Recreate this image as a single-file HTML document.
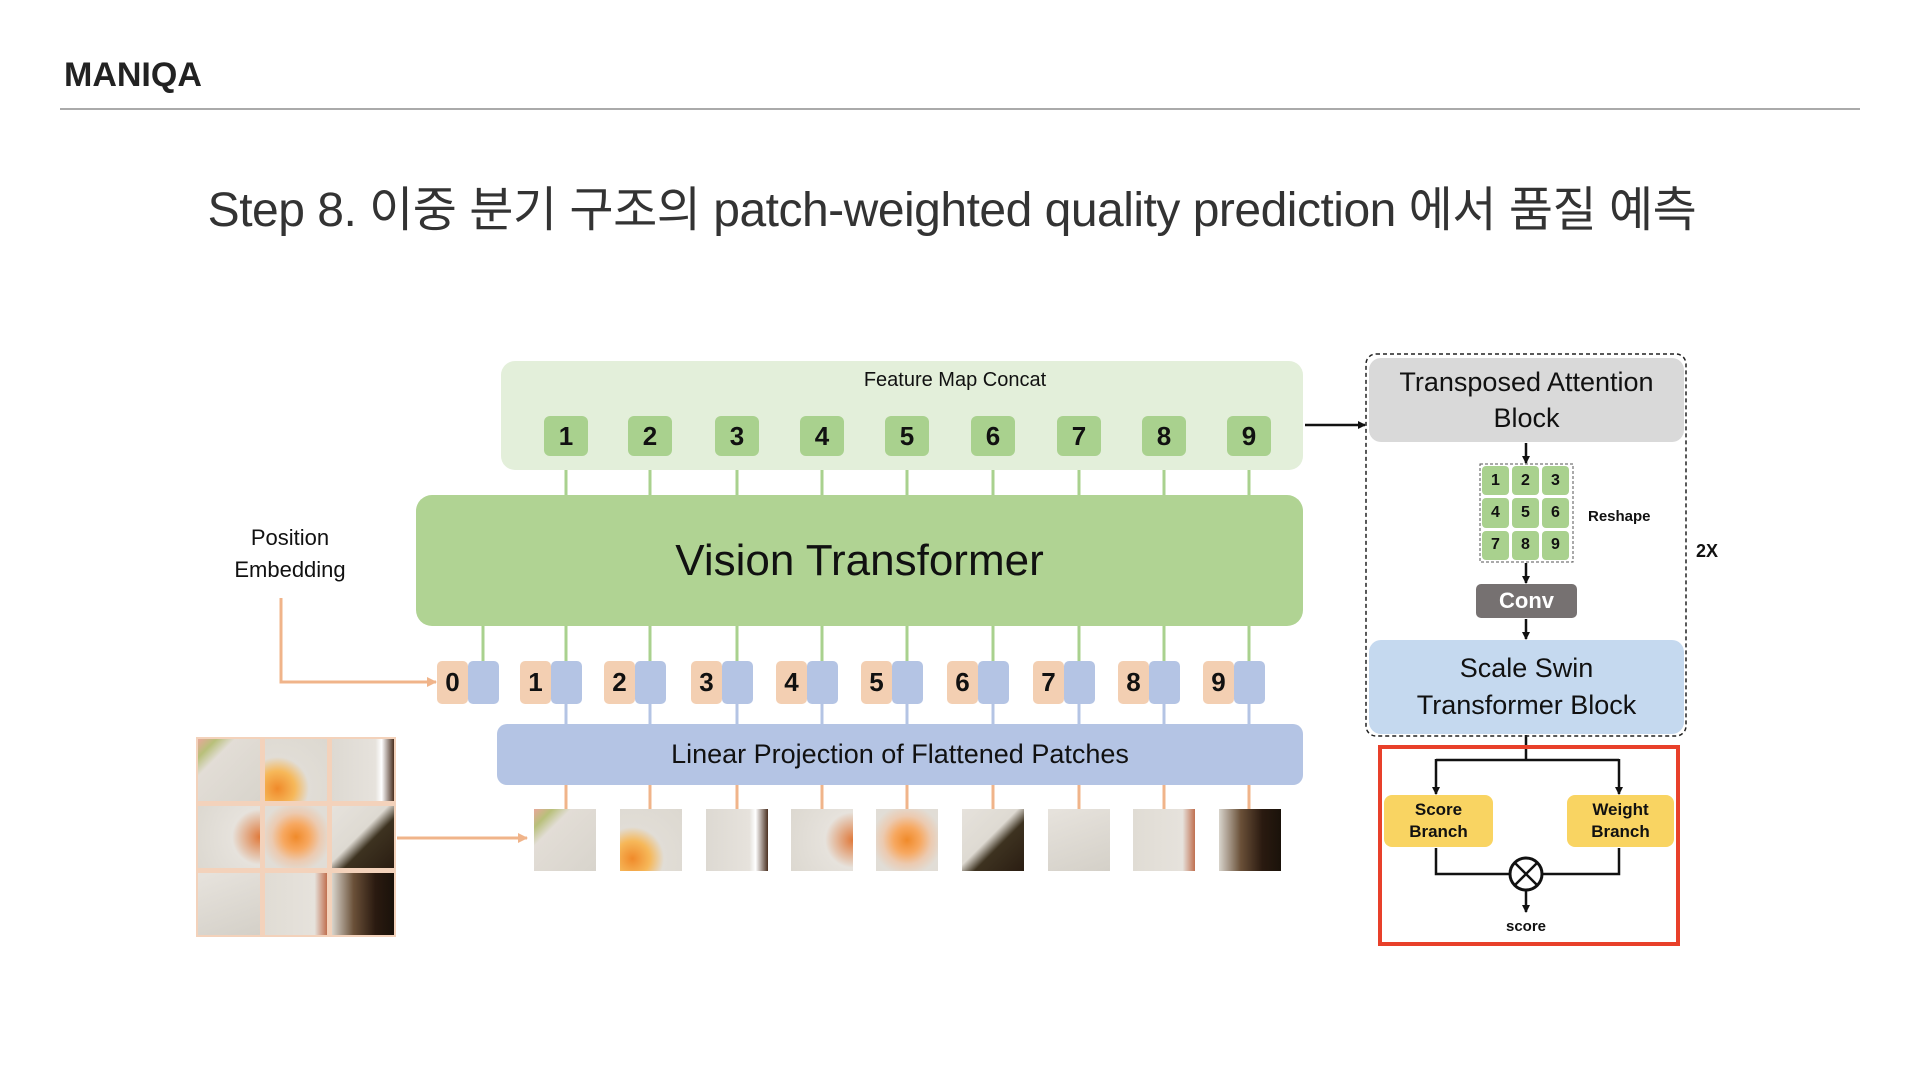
<!DOCTYPE html>
<html><head><meta charset="utf-8">
<style>
body{margin:0;width:1920px;height:1080px;background:#fff;position:relative;overflow:hidden;font-family:"Liberation Sans","Noto Sans CJK KR",sans-serif}
.a{position:absolute}
.c{display:flex;align-items:center;justify-content:center;text-align:center}
.num{font-family:"Liberation Sans",sans-serif;font-weight:bold;color:#111}
</style></head><body>
<div class="a" style="left:64px;top:56px;font-size:34px;font-weight:bold;color:#222;letter-spacing:0px">MANIQA</div>
<div class="a" style="left:60px;top:108px;width:1800px;height:2px;background:#aaa"></div>
<div class="a" style="left:0;top:170px;width:1904px;text-align:center;font-size:48px;color:#333;letter-spacing:-0.5px">Step 8. 이중 분기 구조의 patch-weighted quality prediction 에서 품질 예측</div>

<svg class="a" style="left:0;top:0" width="1920" height="1080">
<defs>
<marker id="ab" markerWidth="8" markerHeight="8" refX="7" refY="4" orient="auto" markerUnits="userSpaceOnUse"><path d="M0,0 L8,4 L0,8z" fill="#111"/></marker>
<marker id="ao" markerWidth="10" markerHeight="10" refX="9" refY="5" orient="auto" markerUnits="userSpaceOnUse"><path d="M0,0 L10,5 L0,10z" fill="#f0b48a"/></marker>
</defs>
<g stroke="#a9d18e" stroke-width="3">
<line x1="483" y1="620" x2="483" y2="665"/>
<line x1="566" y1="450" x2="566" y2="665"/><line x1="650" y1="450" x2="650" y2="665"/><line x1="737" y1="450" x2="737" y2="665"/><line x1="822" y1="450" x2="822" y2="665"/><line x1="907" y1="450" x2="907" y2="665"/><line x1="993" y1="450" x2="993" y2="665"/><line x1="1079" y1="450" x2="1079" y2="665"/><line x1="1164" y1="450" x2="1164" y2="665"/><line x1="1249" y1="450" x2="1249" y2="665"/>
</g>
<g stroke="#b4c4e4" stroke-width="3">
<line x1="566" y1="700" x2="566" y2="728"/><line x1="650" y1="700" x2="650" y2="728"/><line x1="737" y1="700" x2="737" y2="728"/><line x1="822" y1="700" x2="822" y2="728"/><line x1="907" y1="700" x2="907" y2="728"/><line x1="993" y1="700" x2="993" y2="728"/><line x1="1079" y1="700" x2="1079" y2="728"/><line x1="1164" y1="700" x2="1164" y2="728"/><line x1="1249" y1="700" x2="1249" y2="728"/>
</g>
<g stroke="#f0b48a" stroke-width="3" fill="none">
<line x1="566" y1="780" x2="566" y2="812"/><line x1="650" y1="780" x2="650" y2="812"/><line x1="737" y1="780" x2="737" y2="812"/><line x1="822" y1="780" x2="822" y2="812"/><line x1="907" y1="780" x2="907" y2="812"/><line x1="993" y1="780" x2="993" y2="812"/><line x1="1079" y1="780" x2="1079" y2="812"/><line x1="1164" y1="780" x2="1164" y2="812"/><line x1="1249" y1="780" x2="1249" y2="812"/>
<path d="M281,598 V682 H436" marker-end="url(#ao)"/>
<path d="M397,838 H527" marker-end="url(#ao)"/>
</g>
<g stroke="#111" stroke-width="2.5" fill="none">
<path d="M1305,425 H1365" marker-end="url(#ab)"/>
<path d="M1526,443 V463" marker-end="url(#ab)"/>
<path d="M1526,563 V583" marker-end="url(#ab)"/>
<path d="M1526,619 V639" marker-end="url(#ab)"/>
<path d="M1526,735 V760 M1436,760 H1619" />
<path d="M1436,759 V794" marker-end="url(#ab)"/>
<path d="M1619,759 V794" marker-end="url(#ab)"/>
<path d="M1436,848 V874 H1510 M1542,874 H1619 V848"/>
<path d="M1526,890 V912" marker-end="url(#ab)"/>
<circle cx="1526" cy="874" r="16" stroke-width="3" fill="#fff"/>
<path d="M1515,863 L1537,885 M1537,863 L1515,885"/>
</g>
<rect x="1366" y="354" width="320" height="382" rx="10" fill="none" stroke="#222" stroke-width="1.5" stroke-dasharray="4,3"/>
<rect x="1480" y="464" width="93" height="98" fill="none" stroke="#555" stroke-width="1" stroke-dasharray="3,2"/>
<rect x="1380" y="747" width="298" height="197" fill="none" stroke="#e8402a" stroke-width="4"/>
</svg>

<div class="a" style="left:501px;top:361px;width:802px;height:109px;background:#e3efda;border-radius:14px"></div>
<div class="a" style="left:855px;top:369px;width:200px;text-align:center;font-size:20px;color:#111">Feature Map Concat</div>
<div class="a c num" style="left:544px;top:416px;width:44px;height:40px;background:#a9d18e;border-radius:6px;font-size:26px">1</div>
<div class="a c num" style="left:628px;top:416px;width:44px;height:40px;background:#a9d18e;border-radius:6px;font-size:26px">2</div>
<div class="a c num" style="left:715px;top:416px;width:44px;height:40px;background:#a9d18e;border-radius:6px;font-size:26px">3</div>
<div class="a c num" style="left:800px;top:416px;width:44px;height:40px;background:#a9d18e;border-radius:6px;font-size:26px">4</div>
<div class="a c num" style="left:885px;top:416px;width:44px;height:40px;background:#a9d18e;border-radius:6px;font-size:26px">5</div>
<div class="a c num" style="left:971px;top:416px;width:44px;height:40px;background:#a9d18e;border-radius:6px;font-size:26px">6</div>
<div class="a c num" style="left:1057px;top:416px;width:44px;height:40px;background:#a9d18e;border-radius:6px;font-size:26px">7</div>
<div class="a c num" style="left:1142px;top:416px;width:44px;height:40px;background:#a9d18e;border-radius:6px;font-size:26px">8</div>
<div class="a c num" style="left:1227px;top:416px;width:44px;height:40px;background:#a9d18e;border-radius:6px;font-size:26px">9</div>

<div class="a c" style="left:416px;top:495px;width:887px;height:131px;background:#b0d393;border-radius:16px;font-size:44px;color:#111">Vision Transformer</div>

<div class="a" style="left:200px;top:522px;width:180px;text-align:center;font-size:22px;line-height:32px;color:#111">Position<br>Embedding</div>

<div class="a" style="left:437px;top:661px;width:31px;height:43px;background:#f3cfb2;border-radius:5px"></div><div class="a c num" style="left:437px;top:661px;width:31px;height:43px;font-size:26px">0</div><div class="a" style="left:468px;top:661px;width:31px;height:43px;background:#b4c4e4;border-radius:5px"></div>
<div class="a c num" style="left:520px;top:661px;width:31px;height:43px;background:#f3cfb2;border-radius:5px;font-size:26px">1</div><div class="a" style="left:551px;top:661px;width:31px;height:43px;background:#b4c4e4;border-radius:5px"></div>
<div class="a c num" style="left:604px;top:661px;width:31px;height:43px;background:#f3cfb2;border-radius:5px;font-size:26px">2</div><div class="a" style="left:635px;top:661px;width:31px;height:43px;background:#b4c4e4;border-radius:5px"></div>
<div class="a c num" style="left:691px;top:661px;width:31px;height:43px;background:#f3cfb2;border-radius:5px;font-size:26px">3</div><div class="a" style="left:722px;top:661px;width:31px;height:43px;background:#b4c4e4;border-radius:5px"></div>
<div class="a c num" style="left:776px;top:661px;width:31px;height:43px;background:#f3cfb2;border-radius:5px;font-size:26px">4</div><div class="a" style="left:807px;top:661px;width:31px;height:43px;background:#b4c4e4;border-radius:5px"></div>
<div class="a c num" style="left:861px;top:661px;width:31px;height:43px;background:#f3cfb2;border-radius:5px;font-size:26px">5</div><div class="a" style="left:892px;top:661px;width:31px;height:43px;background:#b4c4e4;border-radius:5px"></div>
<div class="a c num" style="left:947px;top:661px;width:31px;height:43px;background:#f3cfb2;border-radius:5px;font-size:26px">6</div><div class="a" style="left:978px;top:661px;width:31px;height:43px;background:#b4c4e4;border-radius:5px"></div>
<div class="a c num" style="left:1033px;top:661px;width:31px;height:43px;background:#f3cfb2;border-radius:5px;font-size:26px">7</div><div class="a" style="left:1064px;top:661px;width:31px;height:43px;background:#b4c4e4;border-radius:5px"></div>
<div class="a c num" style="left:1118px;top:661px;width:31px;height:43px;background:#f3cfb2;border-radius:5px;font-size:26px">8</div><div class="a" style="left:1149px;top:661px;width:31px;height:43px;background:#b4c4e4;border-radius:5px"></div>
<div class="a c num" style="left:1203px;top:661px;width:31px;height:43px;background:#f3cfb2;border-radius:5px;font-size:26px">9</div><div class="a" style="left:1234px;top:661px;width:31px;height:43px;background:#b4c4e4;border-radius:5px"></div>

<div class="a c" style="left:497px;top:724px;width:806px;height:61px;background:#b4c4e4;border-radius:10px;font-size:27px;color:#111">Linear Projection of Flattened Patches</div>

<div class="a" style="left:196px;top:737px;width:200px;height:200px;background:#f3d2bb"></div>
<div class="a" style="left:198px;top:739px;width:62px;height:62px;background:linear-gradient(135deg,#e7a89a 0%,#b8c07a 15%,#e2ddd6 30%,#d8d4cc 100%)"></div>
<div class="a" style="left:265px;top:739px;width:62px;height:62px;background:radial-gradient(circle at 20% 80%,#f08a2a 0,#f6b85a 25%,#e1ddd6 45%,#dcd8d0 100%)"></div>
<div class="a" style="left:332px;top:739px;width:62px;height:62px;background:linear-gradient(90deg,#ddd9d2 0%,#e6e2dc 70%,#fff 80%,#4a3020 100%)"></div>
<div class="a" style="left:198px;top:806px;width:62px;height:62px;background:radial-gradient(circle at 100% 50%,#e0793a 0,#e6e2dc 40%,#dcd8d0 100%)"></div>
<div class="a" style="left:265px;top:806px;width:62px;height:62px;background:radial-gradient(circle at 50% 50%,#f08a2a 0,#f7a860 30%,#eccab0 55%,#e1ddd6 80%)"></div>
<div class="a" style="left:332px;top:806px;width:62px;height:62px;background:linear-gradient(135deg,#e6e2dc 0%,#dedad2 45%,#3d3220 60%,#2a1d12 100%)"></div>
<div class="a" style="left:198px;top:873px;width:62px;height:62px;background:linear-gradient(160deg,#e7e3dd,#d4d0c8)"></div>
<div class="a" style="left:265px;top:873px;width:62px;height:62px;background:linear-gradient(90deg,#e0dcd4,#e6e2dc 80%,#c07050)"></div>
<div class="a" style="left:332px;top:873px;width:62px;height:62px;background:linear-gradient(90deg,#d8d4cc 0%,#6a5038 35%,#2a1a10 70%,#1a120a 100%)"></div>

<div class="a" style="left:534px;top:809px;width:62px;height:62px;background:linear-gradient(135deg,#e7a89a 0%,#b8c07a 15%,#e2ddd6 30%,#d8d4cc 100%)"></div>
<div class="a" style="left:620px;top:809px;width:62px;height:62px;background:radial-gradient(circle at 20% 80%,#f08a2a 0,#f6b85a 25%,#e1ddd6 45%,#dcd8d0 100%)"></div>
<div class="a" style="left:706px;top:809px;width:62px;height:62px;background:linear-gradient(90deg,#ddd9d2 0%,#e6e2dc 70%,#fff 80%,#4a3020 100%)"></div>
<div class="a" style="left:791px;top:809px;width:62px;height:62px;background:radial-gradient(circle at 100% 50%,#e0793a 0,#e6e2dc 40%,#dcd8d0 100%)"></div>
<div class="a" style="left:876px;top:809px;width:62px;height:62px;background:radial-gradient(circle at 50% 50%,#f08a2a 0,#f7a860 30%,#eccab0 55%,#e1ddd6 80%)"></div>
<div class="a" style="left:962px;top:809px;width:62px;height:62px;background:linear-gradient(135deg,#e6e2dc 0%,#dedad2 45%,#3d3220 60%,#2a1d12 100%)"></div>
<div class="a" style="left:1048px;top:809px;width:62px;height:62px;background:linear-gradient(160deg,#e7e3dd,#d4d0c8)"></div>
<div class="a" style="left:1133px;top:809px;width:62px;height:62px;background:linear-gradient(90deg,#e0dcd4,#e6e2dc 80%,#c07050)"></div>
<div class="a" style="left:1219px;top:809px;width:62px;height:62px;background:linear-gradient(90deg,#d8d4cc 0%,#6a5038 35%,#2a1a10 70%,#1a120a 100%)"></div>

<div class="a c" style="left:1369px;top:358px;width:315px;height:84px;background:#d9d9d9;border-radius:12px;font-size:27px;line-height:36px;color:#111">Transposed Attention<br>Block</div>
<div class="a" style="left:1482px;top:466px;width:90px;height:94px;display:grid;grid-template-columns:repeat(3,27px);gap:3px">
<div class="c num" style="background:#a9d18e;border-radius:4px;font-size:16px">1</div><div class="c num" style="background:#a9d18e;border-radius:4px;font-size:16px">2</div><div class="c num" style="background:#a9d18e;border-radius:4px;font-size:16px">3</div>
<div class="c num" style="background:#a9d18e;border-radius:4px;font-size:16px">4</div><div class="c num" style="background:#a9d18e;border-radius:4px;font-size:16px">5</div><div class="c num" style="background:#a9d18e;border-radius:4px;font-size:16px">6</div>
<div class="c num" style="background:#a9d18e;border-radius:4px;font-size:16px">7</div><div class="c num" style="background:#a9d18e;border-radius:4px;font-size:16px">8</div><div class="c num" style="background:#a9d18e;border-radius:4px;font-size:16px">9</div>
</div>
<div class="a" style="left:1588px;top:508px;font-size:15px;font-weight:bold;color:#111">Reshape</div>
<div class="a" style="left:1696px;top:541px;font-size:18px;font-weight:bold;color:#111">2X</div>
<div class="a c" style="left:1476px;top:584px;width:101px;height:34px;background:#767171;border-radius:5px;font-size:22px;font-weight:bold;color:#fff">Conv</div>
<div class="a c" style="left:1369px;top:640px;width:315px;height:94px;background:#c5d9ef;border-radius:12px;font-size:27px;line-height:37px;color:#111">Scale Swin<br>Transformer Block</div>
<div class="a c" style="left:1384px;top:795px;width:109px;height:52px;background:#f9d462;border-radius:8px;font-size:17px;font-weight:bold;line-height:22px;color:#111">Score<br>Branch</div>
<div class="a c" style="left:1567px;top:795px;width:107px;height:52px;background:#f9d462;border-radius:8px;font-size:17px;font-weight:bold;line-height:22px;color:#111">Weight<br>Branch</div>
<div class="a" style="left:1496px;top:918px;width:60px;text-align:center;font-size:15px;font-weight:bold;color:#111">score</div>
</body></html>
